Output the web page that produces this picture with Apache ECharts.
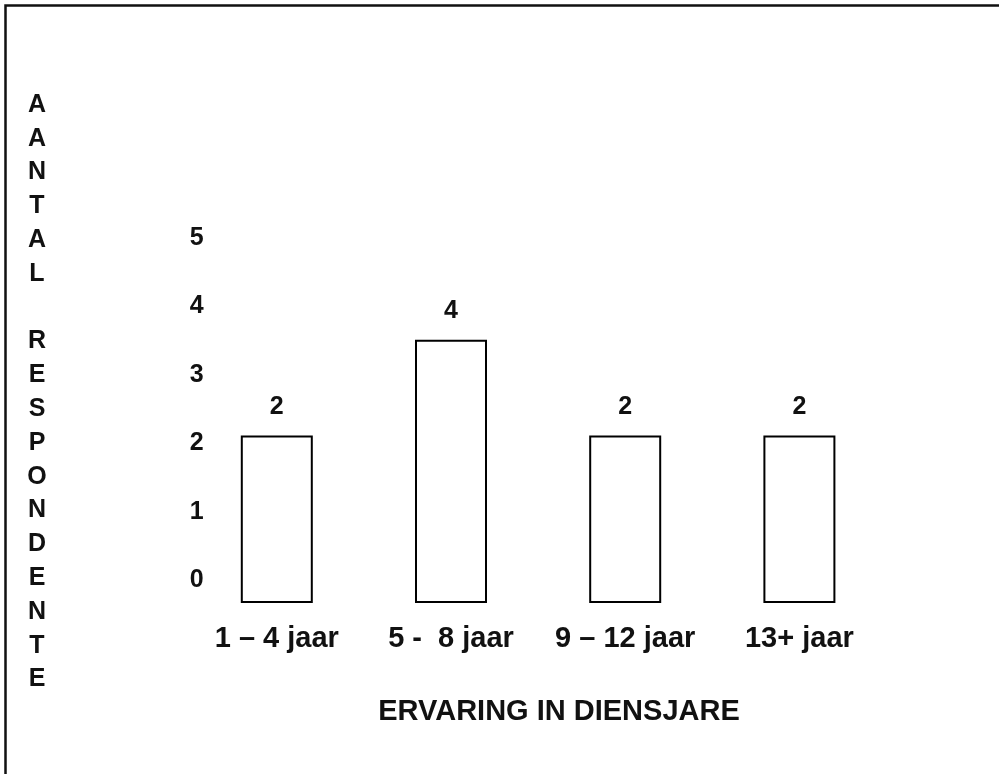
<!DOCTYPE html>
<html>
<head>
<meta charset="utf-8">
<script src="https://cdn.jsdelivr.net/npm/echarts@6/dist/echarts.min.js"></script>
<style>
  html, body { margin: 0; padding: 0; background: #fff; }
  #chart { width: 999px; height: 774px; }
</style>
</head>
<body>
<div id="chart"></div>
<script>
// Data
const categories = ['1 – 4 jaar', '5 -  8 jaar', '9 – 12 jaar', '13+ jaar'];
const labelValues = [2, 4, 2, 2];            // numbers printed above the bars
const barHeights = [2.45, 3.85, 2.45, 2.45];  // drawn bar heights, in y-axis units
const yTicks = [0, 1, 2, 3, 4, 5];
const yTitle = 'AANTAL RESPONDENTE';
const xTitle = 'ERVARING IN DIENSJARE';

const chart = echarts.init(document.getElementById('chart'), null, { renderer: 'canvas' });

const wide = '"Liberation Sans", Arial, sans-serif';
const ink = '#111';

const option = {
  backgroundColor: '#fff',
  animation: false,
  grid: { left: 189.7, right: 112.5, top: 238, bottom: 171 },
  title: {
    text: xTitle,
    left: 559,
    top: 697,
    textAlign: 'center',
    padding: 0,
    textStyle: { fontFamily: wide, fontWeight: 'bold', fontSize: 29, color: ink }
  },
  xAxis: {
    type: 'category',
    data: categories,
    axisLine: { show: false },
    axisTick: { show: false },
    splitLine: { show: false },
    axisLabel: {
      interval: 0,
      margin: 36,
      verticalAlign: 'middle',
      fontFamily: wide,
      fontWeight: 'bold',
      fontSize: 29,
      color: ink
    }
  },
  yAxis: [
    {
      // hidden axis on which bars are measured from the baseline
      type: 'value',
      min: 0,
      max: 5.336,
      show: false
    },
    {
      // visible tick labels 0..5
      type: 'value',
      position: 'left',
      min: -0.336,
      max: 5,
      axisLine: { show: false },
      axisTick: { show: false },
      splitLine: { show: false },
      axisLabel: {
        customValues: yTicks,
        align: 'center',
        margin: -7,
        fontFamily: wide,
        fontWeight: 'bold',
        fontSize: 25,
        color: ink
      }
    }
  ],
  series: [
    {
      type: 'bar',
      yAxisIndex: 0,
      data: barHeights,
      barWidth: 72,
      itemStyle: { color: '#fff', borderColor: '#000', borderWidth: 2 },
      label: {
        show: true,
        position: 'top',
        distance: 16,
        formatter: p => String(labelValues[p.dataIndex]),
        fontFamily: wide,
        fontWeight: 'bold',
        fontSize: 25,
        color: ink
      }
    }
  ],
  graphic: [
    {
      type: 'rect',
      shape: { x: 5.5, y: 5.5, width: 1100, height: 900 },
      style: { fill: 'none', stroke: '#111', lineWidth: 2.5 },
      silent: true
    },
    {
      type: 'text',
      x: 37,
      y: 88,
      style: {
        text: yTitle.split('').join('\n'),
        font: 'bold 25px ' + wide,
        fill: ink,
        textAlign: 'center',
        textVerticalAlign: 'top',
        lineHeight: 33.8
      }
    }
  ]
};

chart.setOption(option);
</script>
</body>
</html>
